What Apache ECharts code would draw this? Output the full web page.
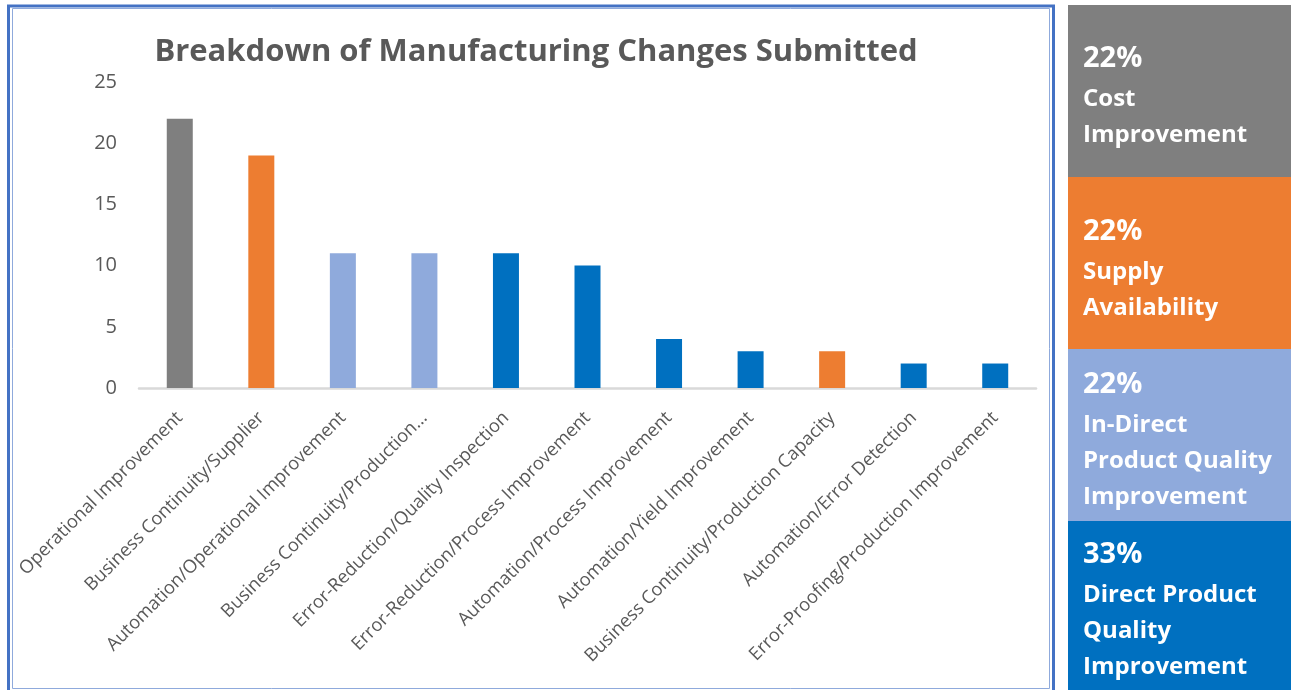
<!DOCTYPE html>
<html>
<head>
<meta charset="utf-8">
<script src="https://cdn.jsdelivr.net/npm/echarts@6/dist/echarts.min.js"></script>
<style>
html,body{margin:0;padding:0;background:#fff;}
#chart{width:1291px;height:690px;}
</style>
</head>
<body>
<div id="chart"></div>
<script>
const titleText = 'Breakdown of Manufacturing Changes Submitted';
const categories = [
  'Operational Improvement',
  'Business Continuity/Supplier',
  'Automation/Operational Improvement',
  'Business Continuity/Production…',
  'Error-Reduction/Quality Inspection',
  'Error-Reduction/Process Improvement',
  'Automation/Process Improvement',
  'Automation/Yield Improvement',
  'Business Continuity/Production Capacity',
  'Automation/Error Detection',
  'Error-Proofing/Production Improvement'
];
const values = [22, 19, 11, 11, 11, 10, 4, 3, 3, 2, 2];
const barGroups = ['cost', 'supply', 'indirect', 'indirect', 'direct', 'direct', 'direct', 'direct', 'supply', 'direct', 'direct'];
const yTicks = [0, 5, 10, 15, 20, 25];

const panelGroups = ['cost', 'supply', 'indirect', 'direct'];
const panelPercents = ['22%', '22%', '22%', '33%'];
const panelLabels = [
  ['Cost', 'Improvement'],
  ['Supply', 'Availability'],
  ['In-Direct', 'Product Quality', 'Improvement'],
  ['Direct Product', 'Quality', 'Improvement']
];

const groupColors = {cost: '#7F7F7F', supply: '#ED7D31', indirect: '#8FAADC', direct: '#0070C0'};
const FONT = '"Open Sans", "Noto Sans", sans-serif';

const chart = echarts.init(document.getElementById('chart'), null, {renderer: 'canvas'});

// right-hand panel
const panelTop = [5, 177, 349, 521];
const panelBottom = [177, 349, 521, 690];
const panelPctBase = [67, 240, 393, 563];
const graphics = [];
panelGroups.forEach((g, i) => {
  graphics.push({
    type: 'rect', silent: true,
    shape: {x: 1068, y: panelTop[i], width: 223, height: panelBottom[i] - panelTop[i]},
    style: {fill: groupColors[g]}
  });
  graphics.push({
    type: 'text', silent: true, x: 1083, y: panelPctBase[i] + 6,
    style: {text: panelPercents[i], fill: '#fff', font: 'bold 29px ' + FONT, textAlign: 'left', verticalAlign: 'bottom'}
  });
  panelLabels[i].forEach((t, j) => {
    graphics.push({
      type: 'text', silent: true, x: 1083, y: panelPctBase[i] + 39 + 36 * j + 5,
      style: {text: t, fill: '#fff', font: 'bold 24px ' + FONT, textAlign: 'left', verticalAlign: 'bottom'}
    });
  });
});
// double border of the chart frame
graphics.push({
  type: 'rect', silent: true,
  shape: {x: 8.5, y: 6, width: 1045, height: 690},
  style: {fill: null, stroke: '#4472C4', lineWidth: 3}
});
graphics.push({
  type: 'rect', silent: true,
  shape: {x: 12.5, y: 8.5, width: 1037, height: 680},
  style: {fill: null, stroke: '#8FAADC', lineWidth: 1}
});

const option = {
  animation: false,
  backgroundColor: '#fff',
  title: {
    text: titleText,
    left: 531, top: 32, textAlign: 'center',
    textStyle: {fontFamily: FONT, fontWeight: 'bold', fontSize: 31, color: '#595959'}
  },
  grid: {left: 139, top: 82, width: 897, height: 306, containLabel: false},
  xAxis: {
    type: 'category',
    data: categories,
    axisLine: {lineStyle: {color: '#D9D9D9', width: 2.5}},
    axisTick: {show: false},
    axisLabel: {
      interval: 0, rotate: 45, margin: 27,
      fontFamily: FONT, fontSize: 18.3, color: '#595959'
    }
  },
  yAxis: {
    type: 'value', min: 0, max: 25, interval: 5,
    splitLine: {show: false},
    axisLine: {show: false},
    axisTick: {show: false},
    axisLabel: {fontFamily: FONT, fontSize: 20, color: '#595959', margin: 22,
      formatter: v => yTicks.includes(v) ? String(v) : ''}
  },
  series: [{
    type: 'bar',
    barWidth: 26,
    data: values.map((v, i) => ({value: v, itemStyle: {color: groupColors[barGroups[i]]}}))
  }],
  graphic: graphics
};
chart.setOption(option);
</script>
</body>
</html>
